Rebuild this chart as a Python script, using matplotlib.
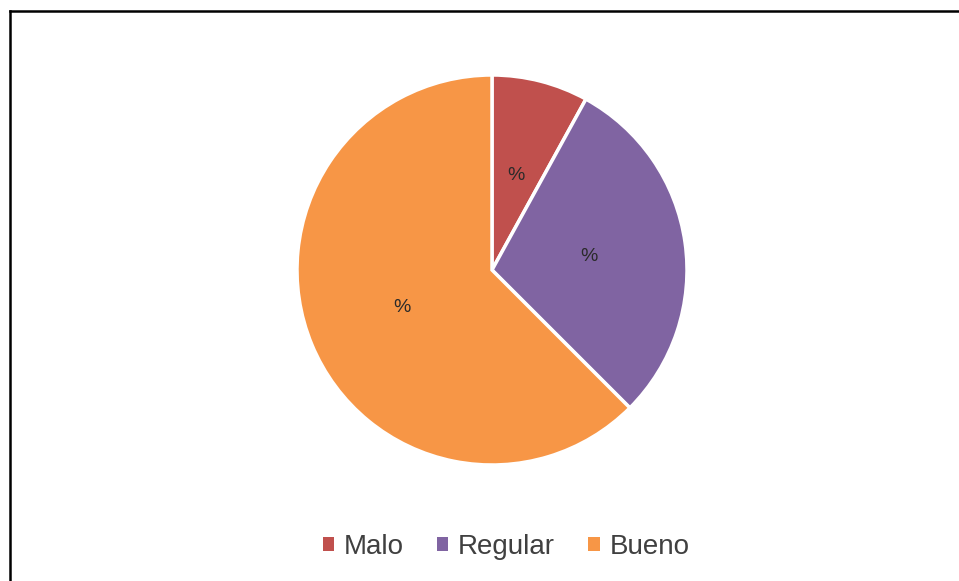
import matplotlib
matplotlib.use("Agg")
import matplotlib.pyplot as plt
from matplotlib.lines import Line2D
from matplotlib.patches import Patch

categories = ["Malo", "Regular", "Bueno"]
values = [8.0, 29.5, 62.5]
labels = ["%", "%", "%"]
colors = ["#C0504D", "#8064A2", "#F79646"]

W, H = 959, 581
fig = plt.figure(figsize=(W / 100, H / 100), dpi=100)
fig.patch.set_facecolor("white")

cx, cy, r = 492, 270, 195
ax = fig.add_axes([(cx - r) / W, (H - cy - r) / H, 2 * r / W, 2 * r / H])
wedges, texts = ax.pie(values, labels=labels, colors=colors, startangle=90,
                       counterclock=False, labeldistance=0.5,
                       wedgeprops=dict(edgecolor="white", linewidth=2.5),
                       textprops=dict(fontsize=14, color="#2a2a2a",
                                      family="Liberation Sans"))
for t in texts:
    t.set_horizontalalignment("center")
    t.set_verticalalignment("center")
ax.set_xlim(-1, 1)
ax.set_ylim(-1, 1)
ax.axis("off")

handles = [Patch(facecolor=c, edgecolor="none") for c in colors]
fig.legend(handles, categories, loc="center", ncol=3,
           bbox_to_anchor=(506 / W, 1 - 547 / H), frameon=False,
           prop=dict(family="Liberation Sans", size=20),
           labelcolor="#404040", handlelength=0.4, handleheight=0.4,
           handletextpad=0.36, columnspacing=1.2)

# border lines (top and left)
fig.add_artist(Line2D([10 / W, 1], [1 - 11 / H, 1 - 11 / H], transform=fig.transFigure,
                      color="black", linewidth=1.8))
fig.add_artist(Line2D([10 / W, 10 / W], [0, 1 - 11 / H], transform=fig.transFigure,
                      color="black", linewidth=1.8))

fig.savefig("out.png", dpi=100)
